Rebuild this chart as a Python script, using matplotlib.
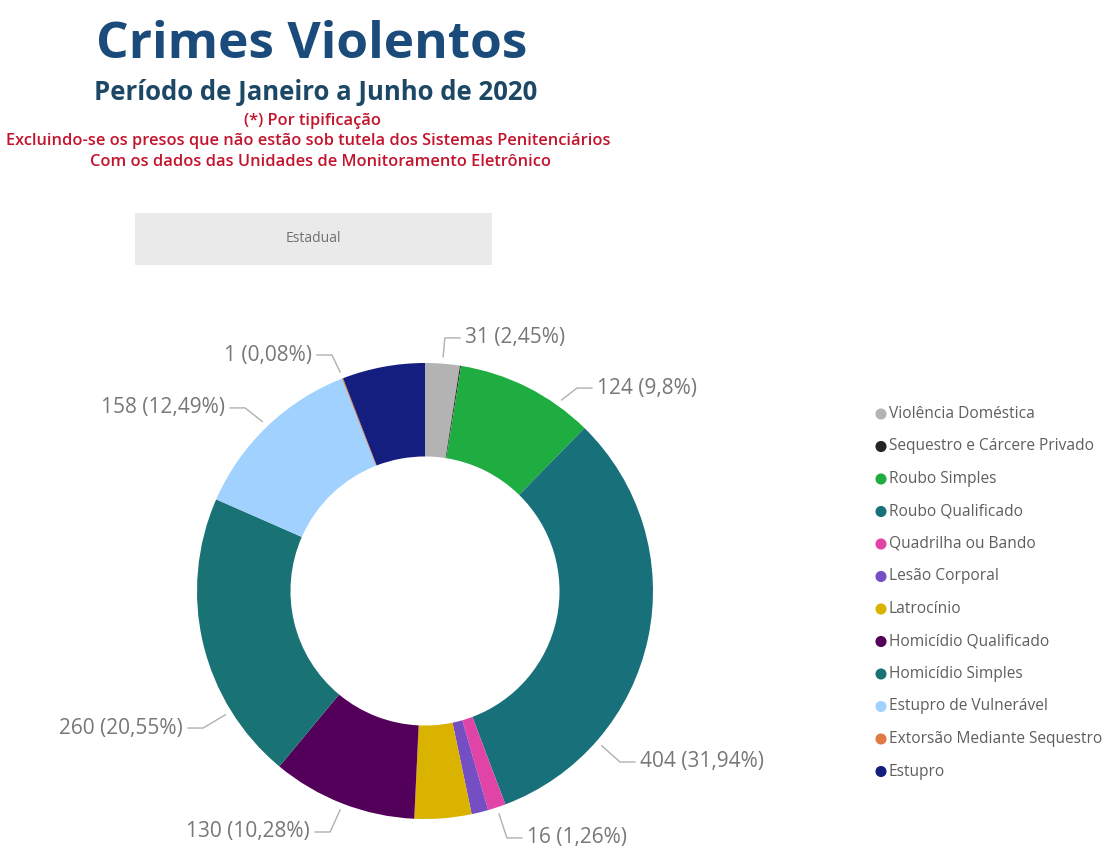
import matplotlib
matplotlib.use("Agg")
import matplotlib.pyplot as plt
import numpy as np
from matplotlib.patches import Rectangle

plt.rcParams['font.family'] = ['Open Sans', 'DejaVu Sans']

# dados por tipificação (jan-jun 2020)
categorias = ['Violência Doméstica', 'Sequestro e Cárcere Privado', 'Roubo Simples',
              'Roubo Qualificado', 'Quadrilha ou Bando', 'Lesão Corporal', 'Latrocínio',
              'Homicídio Qualificado', 'Homicídio Simples', 'Estupro de Vulnerável',
              'Extorsão Mediante Sequestro', 'Estupro']
valores = [31, 1, 124, 404, 16, 15, 51, 130, 260, 158, 1, 74]
cores = ['#B3B3B3', '#252423', '#1FAD42', '#18707A', '#E044A7', '#744EC2', '#D9B300',
         '#52005A', '#197274', '#A0D1FF', '#E07A45', '#131E7E']

# rótulos: índice da fatia, posição do texto (em raios), lado, ponto de ancoragem na fatia
rotulos = [
    (0, 0.175, 1.110, 'left', 0.5),
    (2, 0.754, 0.890, 'left', 0.75),
    (3, 0.943, -0.750, 'left', 0.755),
    (4, 0.447, -1.083, 'left', 0.5),
    (7, -0.504, -1.057, 'right', 0.5),
    (8, -1.061, -0.601, 'right', 0.25),
    (9, -0.877, 0.803, 'right', 0.5),
    (10, -0.496, 1.035, 'right', 0.5),
]

total = sum(valores)


def fmt_pct(v):
    p = round(v / total * 100, 2)
    s = ('%.2f' % p).rstrip('0').rstrip('.')
    return s.replace('.', ',') + '%'


fig = plt.figure(figsize=(11.12, 8.48), dpi=100)
fig.patch.set_facecolor('white')

# camada de fundo em pixels para títulos, filtro e legenda
bg = fig.add_axes([0, 0, 1, 1])
bg.set_xlim(0, 1112)
bg.set_ylim(848, 0)
bg.axis('off')

bg.text(312, 58, 'Crimes Violentos', ha='center', va='baseline', fontsize=37,
        fontweight='bold', color='#1A4B7A')
bg.text(316, 100, 'Período de Janeiro a Junho de 2020', ha='center', va='baseline',
        fontsize=18.5, fontweight='bold', color='#1C4866')
vermelho = '#C3142D'
bg.text(312, 121, '(*) Por tipificação', ha='center', va='center', fontsize=11.8,
        fontweight='semibold', color=vermelho)
bg.text(308, 141, 'Excluindo-se os presos que não estão sob tutela dos Sistemas Penitenciários',
        ha='center', va='center', fontsize=11.8, fontweight='semibold', color=vermelho)
bg.text(320, 162, 'Com os dados das Unidades de Monitoramento Eletrônico', ha='center',
        va='center', fontsize=11.8, fontweight='semibold', color=vermelho)

bg.add_patch(Rectangle((135, 213), 357, 52, facecolor='#EAEAEA', edgecolor='none'))
bg.text(313, 239, 'Estadual', ha='center', va='center', fontsize=10, color='#707070')

# legenda
for i, (cat, cor) in enumerate(zip(categorias, cores)):
    y = 414 + 32.5 * i
    bg.scatter(881, y, s=64, color=cor, edgecolors='none')
    bg.text(889, y, cat, ha='left', va='center', fontsize=11.2, color='#605E5C')

# rosca
ax = fig.add_axes([197 / 1112, 29 / 848, 456 / 1112, 456 / 848])
wedges, _ = ax.pie(valores, colors=cores, startangle=90, counterclock=False, radius=1,
                   wedgeprops=dict(width=0.41, linewidth=0))
ax.set_xlim(-1, 1)
ax.set_ylim(-1, 1)
ax.axis('off')

px = 1 / 228  # um pixel em unidades de raio
for idx, tx, ty, lado, frac in rotulos:
    w = wedges[idx]
    ang = np.deg2rad(w.theta2 - frac * (w.theta2 - w.theta1))
    ax0, ay0 = 1.03 * np.cos(ang), 1.03 * np.sin(ang)
    sinal = -1 if lado == 'left' else 1
    ex = tx + sinal * 20 * px
    lx = tx + sinal * 5 * px
    ax.plot([ax0, ex, lx], [ay0, ty, ty], color='#B0B0B0', lw=1, clip_on=False)
    texto = '%d (%s)' % (valores[idx], fmt_pct(valores[idx]))
    ax.text(tx, ty, texto, ha=lado, va='center', fontsize=15, color='#777777')

fig.savefig('out.png', dpi=100, facecolor='white')
